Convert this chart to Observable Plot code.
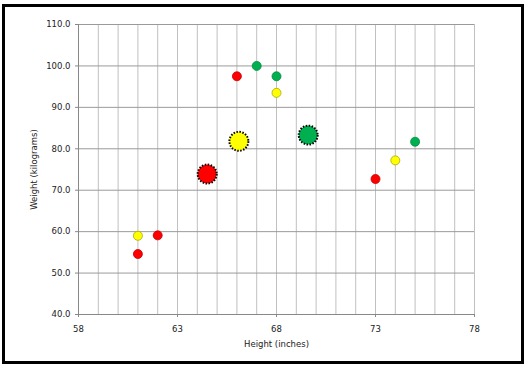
<!DOCTYPE html>
<html>
<head>
<meta charset="utf-8">
<script src="https://cdn.jsdelivr.net/npm/d3@7"></script>
<script src="https://cdn.jsdelivr.net/npm/@observablehq/plot@0.6"></script>
<style>
  html, body { margin: 0; padding: 0; background: #fff; }
  #wrap { position: relative; width: 529px; height: 369px; }
  #border { position: absolute; left: 2px; top: 4px; width: 516px; height: 354px; border: 3px solid #000; pointer-events: none; }
</style>
</head>
<body>
<div id="wrap"><div id="border"></div></div>
<script>
// Data
const heights = [61, 62, 66, 73, 61, 68, 74, 67, 68, 75, 64.5, 66.1, 69.6];
const weights = [54.6, 59.1, 97.5, 72.7, 59.0, 93.5, 77.2, 100.0, 97.5, 81.7, 73.9, 81.8, 83.3];
const groups  = ["red", "red", "red", "red", "yellow", "yellow", "yellow", "green", "green", "green", "red", "yellow", "green"];
const kinds   = ["point", "point", "point", "point", "point", "point", "point", "point", "point", "point", "center", "center", "center"];
const xTickLabels = [58, 63, 68, 73, 78];
const yTickLabels = [40, 50, 60, 70, 80, 90, 100, 110];
const xGrid = d3.range(58, 79, 1);

const fillColors = { red: "#FF0000", yellow: "#FFFF00", green: "#00B050" };
const strokeColors = { red: "#C00000", yellow: "#A8A800", green: "#008A3E" };

const data = heights.map((h, i) => ({ h, w: weights[i], g: groups[i], k: kinds[i] }));
const pts = data.filter(d => d.k === "point");
const centers = data.filter(d => d.k === "center");

const font = "DejaVu Sans, Verdana, sans-serif";

const chart = Plot.plot({
  width: 529,
  height: 369,
  marginTop: 24,
  marginRight: 55,
  marginBottom: 55,
  marginLeft: 78,
  style: { fontFamily: font, fontSize: "8px", color: "#222", background: "transparent" },
  x: { domain: [58, 78] },
  y: { domain: [40, 110] },
  marks: [
    Plot.gridX(xGrid, { stroke: "#c0c0c0", strokeOpacity: 1, strokeWidth: 1 }),
    Plot.gridY(yTickLabels, { stroke: "#9a9a9a", strokeOpacity: 1, strokeWidth: 1 }),
    Plot.ruleY([40], { stroke: "#888" }),
    Plot.ruleX([58], { stroke: "#888" }),
    Plot.axisY({ ticks: yTickLabels, tickFormat: d => d.toFixed(1), tickSize: 3, tickPadding: 5, stroke: "#888",
      label: "Weight (kilograms)", labelAnchor: "center", labelOffset: 48, labelArrow: "none", fontSize: 8.5 }),
    Plot.axisX({ ticks: xTickLabels, tickFormat: d => String(d), tickSize: 3, tickPadding: 8, stroke: "#888",
      label: "Height (inches)", labelAnchor: "center", labelOffset: 32, labelArrow: "none", fontSize: 8.5 }),
    Plot.dot(pts, { x: "h", y: "w", r: 4.5, fill: d => fillColors[d.g], stroke: d => strokeColors[d.g], strokeWidth: 0.8 }),
    Plot.dot(centers, { x: "h", y: "w", r: 9.5, fill: d => fillColors[d.g], stroke: "#000", strokeWidth: 2, strokeDasharray: "1.5,1.5" })
  ]
});
document.getElementById("wrap").prepend(chart);
</script>
</body>
</html>
